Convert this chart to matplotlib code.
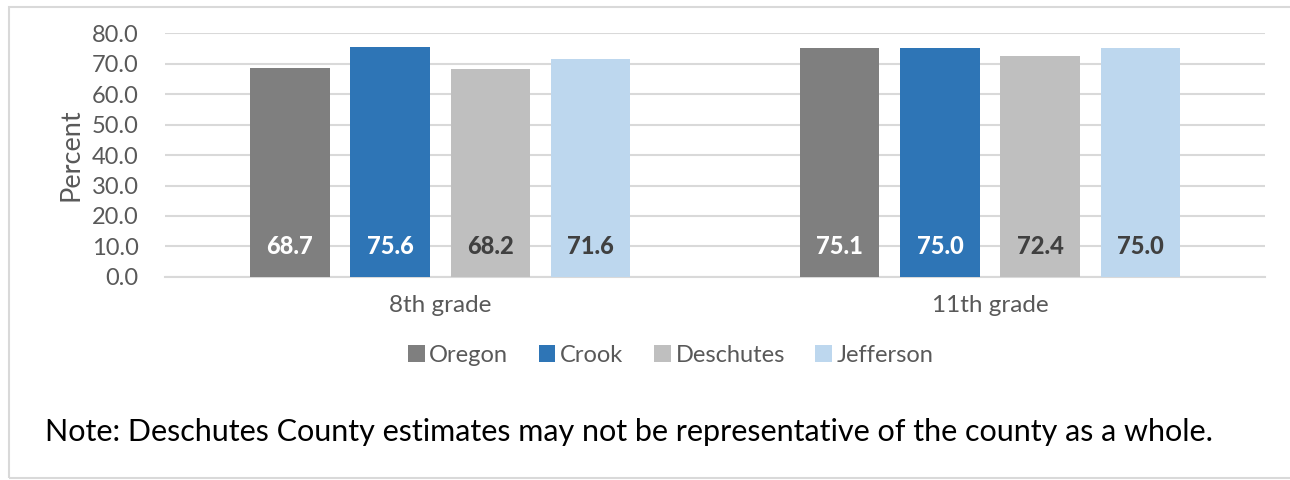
import matplotlib
matplotlib.use("Agg")
import matplotlib.pyplot as plt
from matplotlib.patches import Rectangle, Patch
import numpy as np

# data
grades = ["8th grade", "11th grade"]
counties = ["Oregon", "Crook", "Deschutes", "Jefferson"]
oregon = [68.7, 75.1]
crook = [75.6, 75.0]
deschutes = [68.2, 72.4]
jefferson = [71.6, 75.0]
yticks = [0, 10, 20, 30, 40, 50, 60, 70, 80]

colors = ["#7f7f7f", "#2e75b6", "#bfbfbf", "#bdd7ee"]
label_colors = ["white", "white", "#404040", "#404040"]

plt.rcParams["font.family"] = ["Lato", "DejaVu Sans"]

fig = plt.figure(figsize=(12.9, 4.8), dpi=100)
ax = fig.add_axes([0.128, 0.423, 0.8526, 0.508])

x = np.arange(len(grades))
width = 0.144
offsets = [-0.273, -0.091, 0.091, 0.273]
series = [oregon, crook, deschutes, jefferson]

for vals, off, col, lcol in zip(series, offsets, colors, label_colors):
    bars = ax.bar(x + off, vals, width, color=col, zorder=3)
    for b, v in zip(bars, vals):
        ax.text(b.get_x() + b.get_width() / 2, 10, f"{v:.1f}", ha="center", va="center",
                color=lcol, fontsize=17, fontweight="black", zorder=4)

ax.set_xlim(-0.5, 1.5)
ax.set_ylim(0, 80)
ax.set_yticks(yticks)
ax.set_yticklabels([f"{t:.1f}" for t in yticks], fontsize=17, color="#595959")
ax.set_xticks(x)
ax.set_xticklabels(grades, fontsize=17.5, color="#595959")
ax.tick_params(axis="y", length=0, pad=19)
ax.tick_params(axis="x", length=0, pad=13)
ax.grid(axis="y", color="#d9d9d9", linewidth=1.5, zorder=0)
for s in ["top", "right", "left"]:
    ax.spines[s].set_visible(False)
ax.spines["bottom"].set_color("#d9d9d9")
ax.spines["bottom"].set_linewidth(1.5)
ax.set_ylabel("Percent", fontsize=19.5, color="#595959", labelpad=6)

handles = [Patch(facecolor=c, edgecolor="none") for c in colors]
fig.legend(handles, counties, loc="center", bbox_to_anchor=(0.52, 0.26), ncol=4,
           frameon=False, fontsize=17, labelcolor="#595959", handlelength=0.7,
           handleheight=0.7, handletextpad=0.2, columnspacing=1.3)

fig.text(45 / 1290, 1 - 432 / 480, "Note: Deschutes County estimates may not be representative of the county as a whole.",
         fontsize=22, color="black", va="center", ha="left")

# light frame around the chart
fig.patches.append(Rectangle((9 / 1290, 1 - 478 / 480), 1.1, 471 / 480, transform=fig.transFigure,
                             fill=False, edgecolor="#d9d9d9", linewidth=1.5))

fig.savefig("out.png", dpi=100)
